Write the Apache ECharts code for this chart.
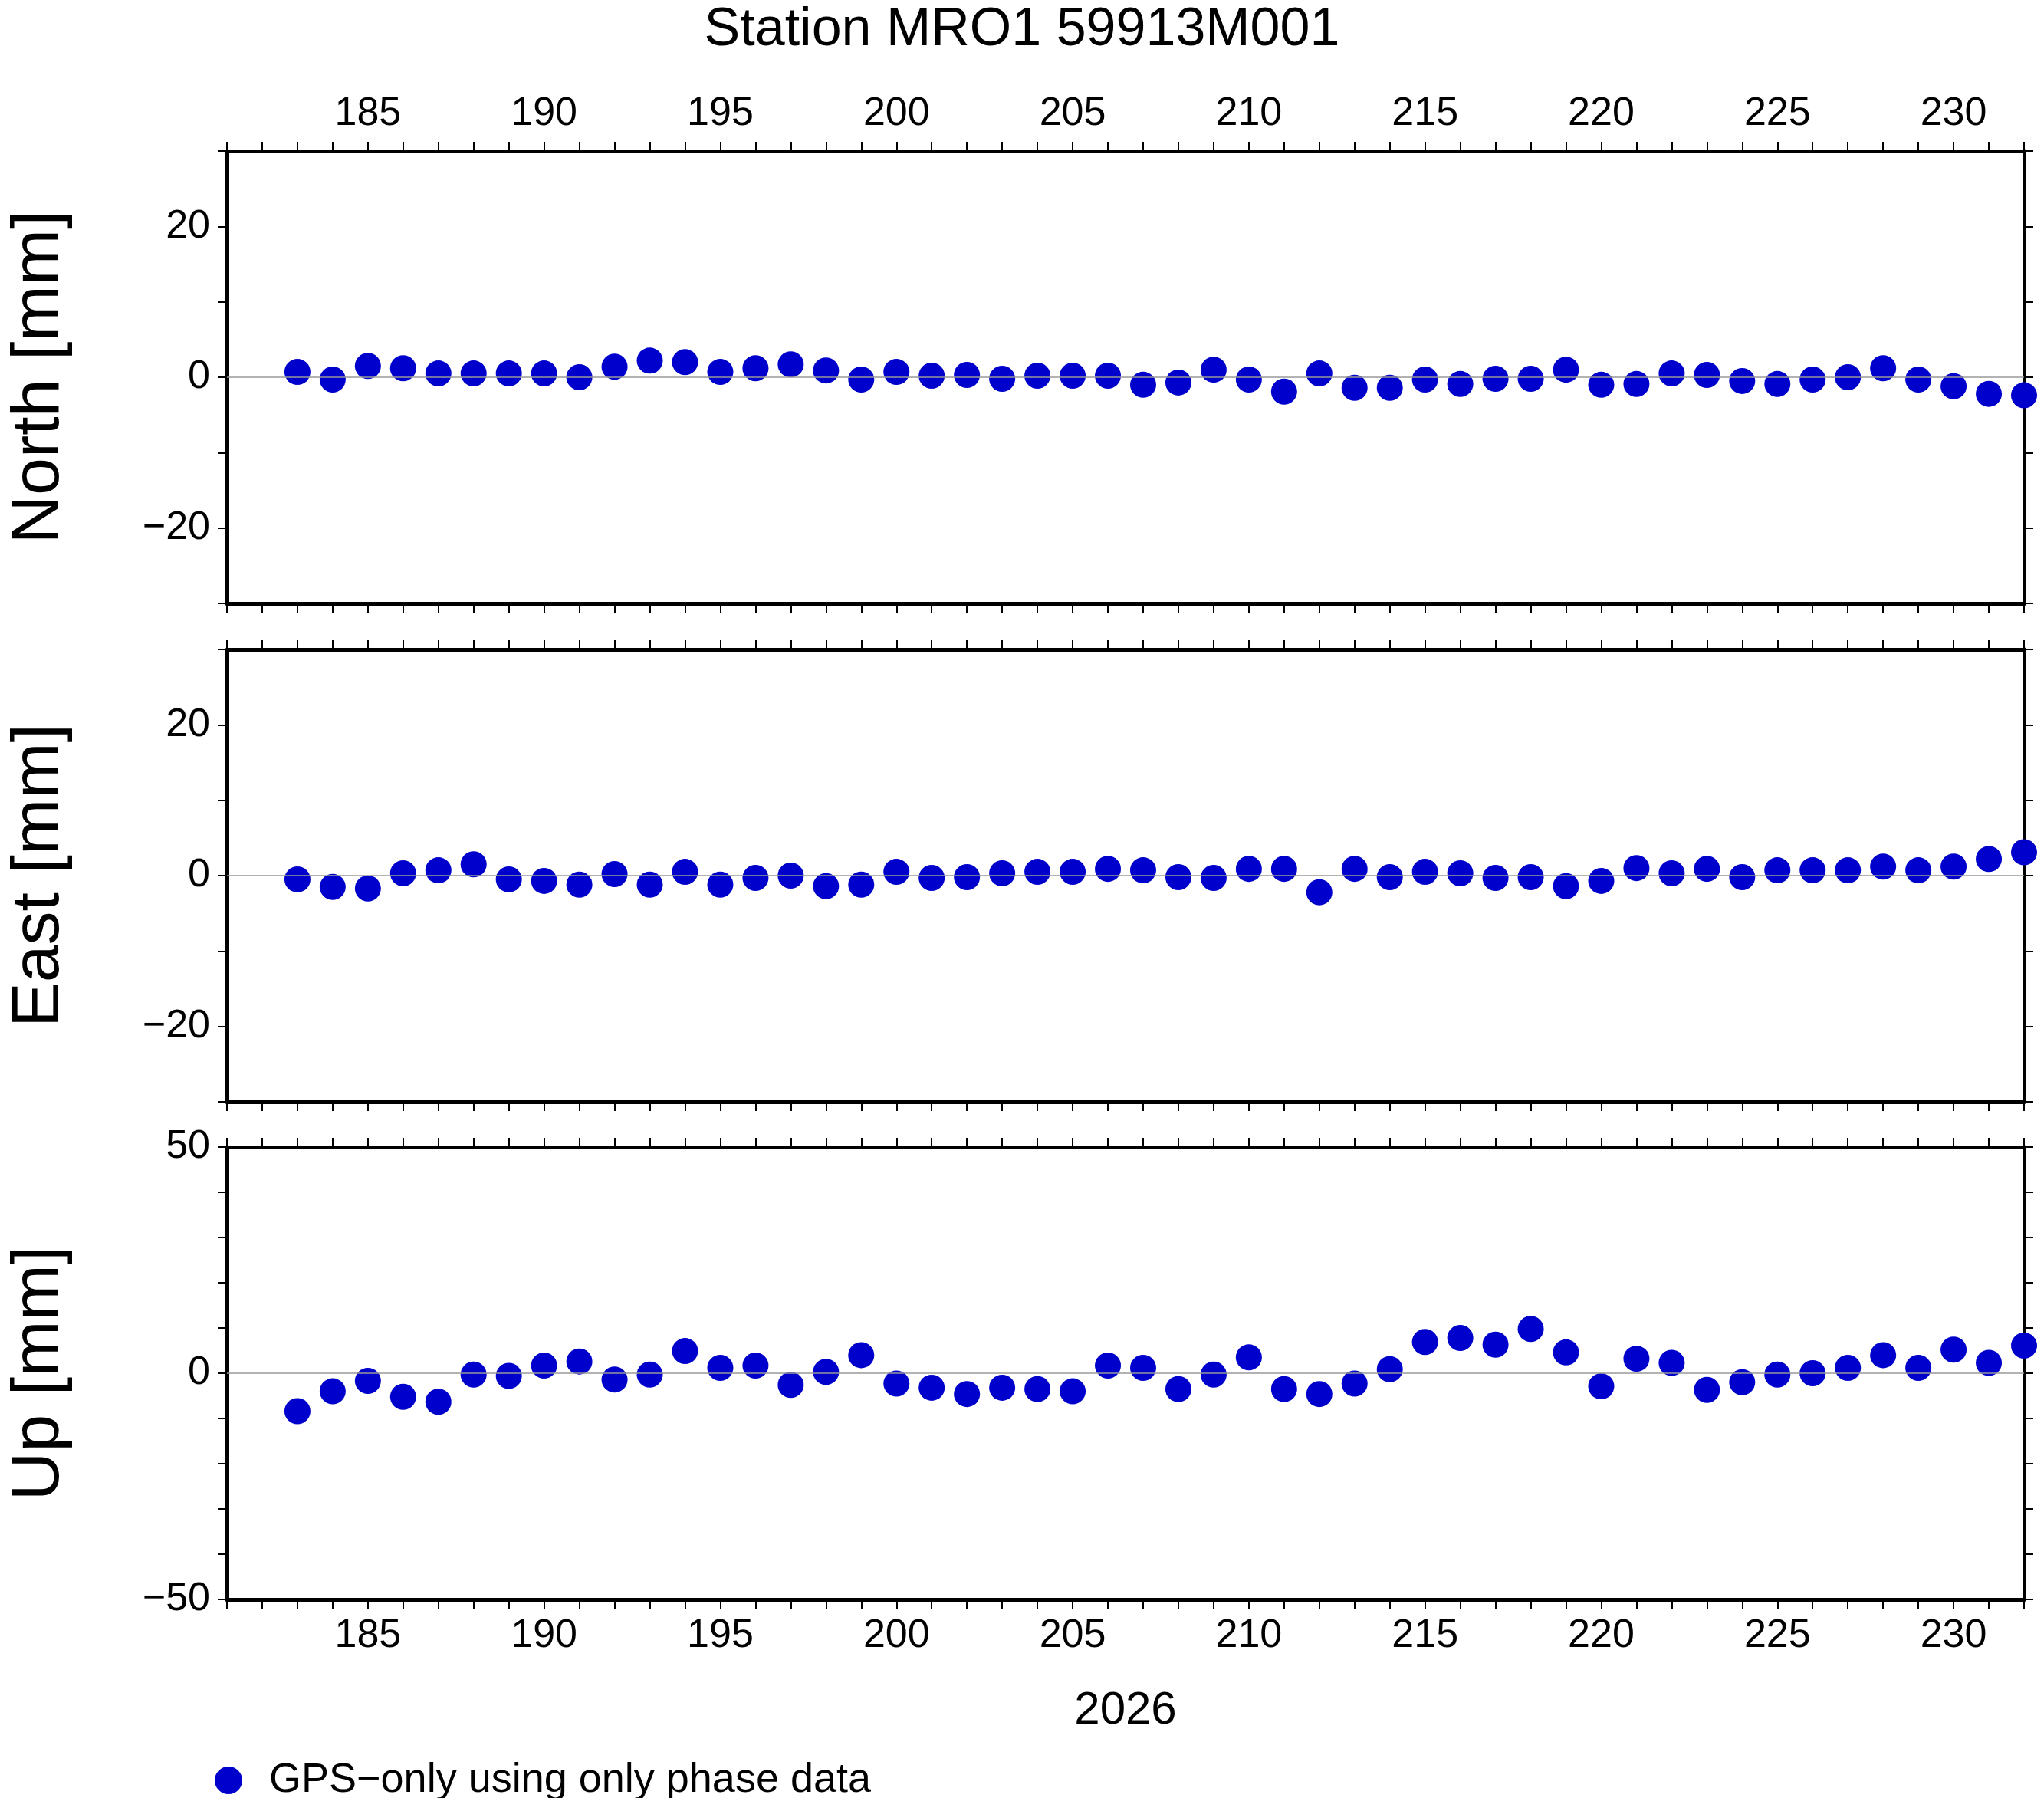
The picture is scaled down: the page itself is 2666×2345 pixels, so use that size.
<!DOCTYPE html>
<html><head><meta charset="utf-8">
<script src="https://cdn.jsdelivr.net/npm/echarts@6/dist/echarts.min.js"></script>
<style>html,body{margin:0;padding:0;background:#fff}#chart{width:2666px;height:2345px}</style>
</head><body><div id="chart"></div>
<script>
var days = [];
for (var d = 183; d <= 232; d++) days.push(d);

var north = [0.7,-0.3,1.5,1.2,0.5,0.5,0.5,0.5,0,1.4,2.2,2,0.7,1.2,1.7,0.9,-0.3,0.7,0.2,0.3,-0.2,0.2,0.2,0.2,-1,-0.7,1,-0.3,-1.9,0.5,-1.4,-1.4,-0.3,-0.9,-0.2,-0.2,1,-1,-0.9,0.5,0.3,-0.5,-0.9,-0.3,0,1.2,-0.3,-1.2,-2.2,-2.4];
var east = [-0.5,-1.5,-1.7,0.3,0.7,1.5,-0.5,-0.7,-1.2,0.2,-1.2,0.5,-1.2,-0.3,0,-1.4,-1.2,0.5,-0.3,-0.2,0.3,0.5,0.5,0.9,0.7,-0.2,-0.3,0.9,0.9,-2.2,0.9,-0.2,0.5,0.3,-0.3,-0.2,-1.4,-0.7,1,0.3,0.9,-0.2,0.7,0.7,0.7,1.2,0.7,1.2,2.2,3.1];
var up = [-8.4,-4,-1.7,-5.2,-6.3,-0.3,-0.6,1.7,2.6,-1.4,-0.3,4.9,1.2,1.7,-2.6,0.3,4,-2.3,-3.2,-4.6,-3.2,-3.5,-4,1.7,1.2,-3.5,-0.3,3.5,-3.5,-4.6,-2.3,0.9,6.9,7.8,6.3,9.8,4.6,-2.9,3.2,2.3,-3.7,-2,-0.3,0,1.2,4,1.2,5.2,2.3,6.1];

var panelNames = ['North [mm]', 'East [mm]', 'Up [mm]'];
var panelData = [north, east, up];
var yMin = [-30, -30, -50], yMax = [30, 30, 50], yLabelStep = [20, 20, 50];
var tops = [197, 847, 1496];

var FONT = 'Liberation Sans';
var lineStyle = {color: '#000', width: 5};
var grids = [], xAxes = [], yAxes = [], series = [];

panelData.forEach(function (vals, i) {
    grids.push({left: 277, right: 26, top: tops[i], height: 590});
    ['bottom', 'top'].forEach(function (pos) {
        var showLab = (pos === 'top' && i === 0) || (pos === 'bottom' && i === 2);
        xAxes.push({
            type: 'value', gridIndex: i, position: pos, min: 181, max: 232, interval: 1,
            axisLine: {show: true, onZero: false, lineStyle: lineStyle},
            axisTick: {show: true, length: 12, lineStyle: {color: '#000', width: 2}},
            splitLine: {show: false},
            axisLabel: {show: showLab, fontFamily: FONT, fontSize: 52, color: '#000', margin: 22,
                formatter: function (v) { return v % 5 === 0 ? v : ''; }},
            name: (pos === 'bottom' && i === 2) ? '2026' : '',
            nameLocation: 'middle', nameGap: 115,
            nameTextStyle: {fontFamily: FONT, fontSize: 60, color: '#000'}
        });
    });
    ['left', 'right'].forEach(function (pos) {
        yAxes.push({
            type: 'value', gridIndex: i, position: pos, min: yMin[i], max: yMax[i], interval: 10,
            axisLine: {show: true, onZero: false, lineStyle: lineStyle},
            axisTick: {show: true, length: 12, lineStyle: {color: '#000', width: 2}},
            splitLine: {show: false},
            axisLabel: {show: pos === 'left', fontFamily: FONT, fontSize: 52, color: '#000', margin: 22,
                formatter: function (v) { return v % yLabelStep[i] === 0 ? String(v).replace('-', '\u2212') : ''; }},
            name: pos === 'left' ? panelNames[i] : '',
            nameLocation: 'middle', nameGap: 200,
            nameTextStyle: {fontFamily: FONT, fontSize: 88, color: '#000'}
        });
    });
    series.push({
        name: 'GPS\u2212only using only phase data',
        type: 'scatter', xAxisIndex: i * 2, yAxisIndex: i * 2,
        symbolSize: 34, itemStyle: {color: '#0000cc', opacity: 1},
        data: days.map(function (d, k) { return [d, vals[k]]; }),
        markLine: {silent: true, symbol: 'none', label: {show: false},
            lineStyle: {color: '#999', width: 1.5, type: 'solid'}, data: [{yAxis: 0}]},
        z: 3
    });
});

var chart = echarts.init(document.getElementById('chart'));
chart.setOption({
    animation: false,
    backgroundColor: '#fff',
    title: {text: 'Station MRO1 59913M001', left: 'center', top: 0,
        textStyle: {fontFamily: FONT, fontSize: 70, fontWeight: 'normal', color: '#000'}},
    legend: {left: 275, top: 2290, itemWidth: 36, itemHeight: 36, icon: 'circle',
        data: ['GPS\u2212only using only phase data'],
        textStyle: {fontFamily: FONT, fontSize: 54, color: '#000', padding: [0, 0, 0, 30]}},
    grid: grids, xAxis: xAxes, yAxis: yAxes, series: series
});
</script></body></html>
